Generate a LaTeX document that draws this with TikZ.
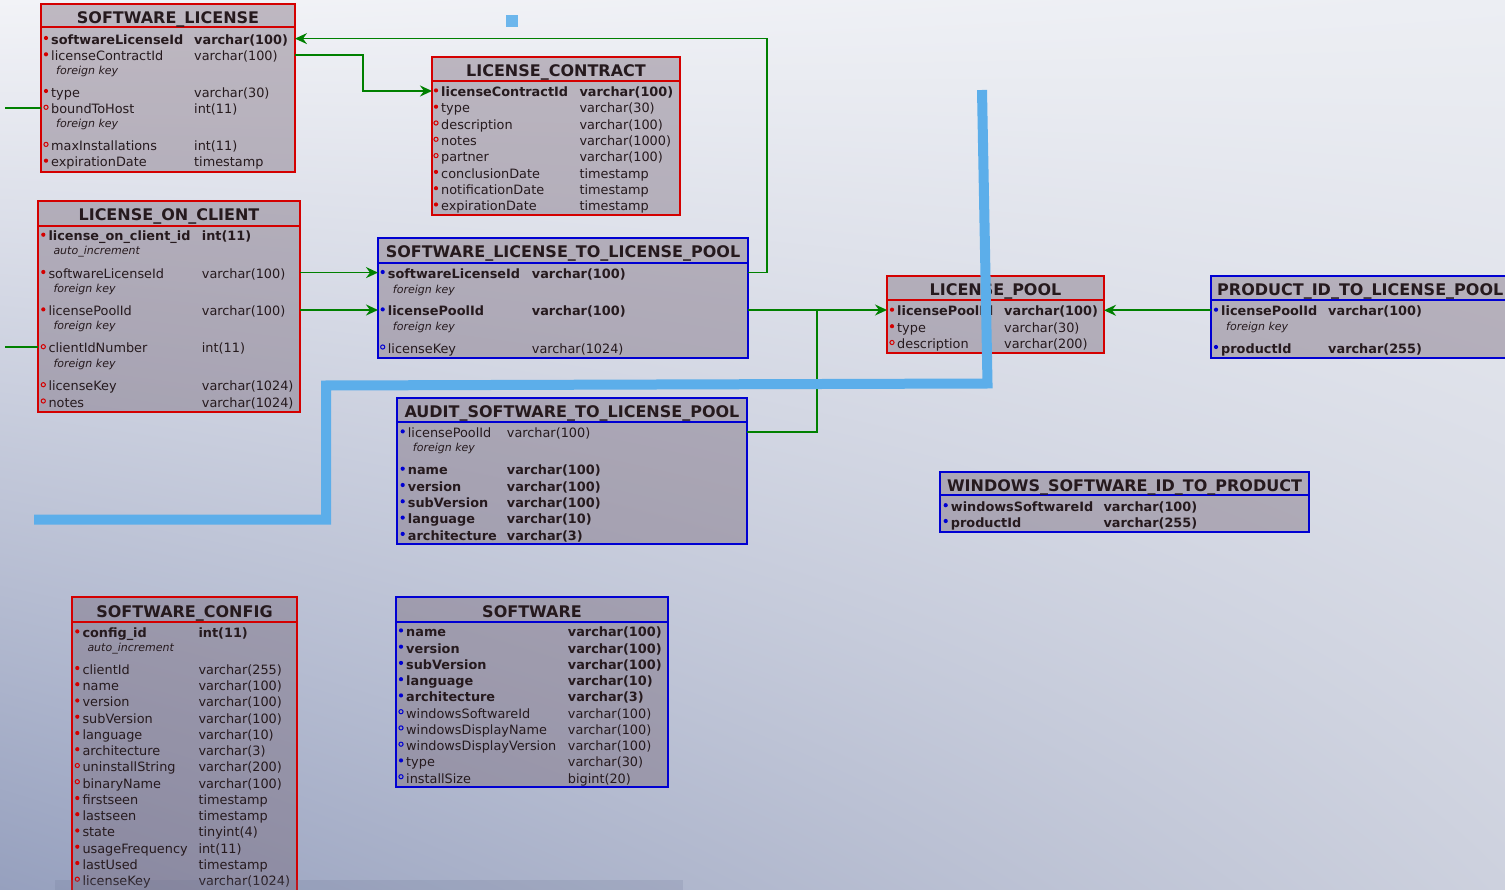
\documentclass[tikz,border=0pt]{standalone}
\usepackage{fontspec}
\setmainfont{DejaVu Sans}
\usetikzlibrary{arrows.meta,calc,shadings}
\definecolor{bgUL}{RGB}{242,243,247}
\definecolor{bgUR}{RGB}{236,238,243}
\definecolor{bgLL}{RGB}{150,160,190}
\definecolor{bgLR}{RGB}{205,209,222}
\definecolor{erred}{RGB}{212,0,0}
\definecolor{erblue}{RGB}{0,0,210}
\definecolor{ergreen}{RGB}{0,128,0}
\definecolor{txtc}{RGB}{38,26,30}
\definecolor{scrib}{RGB}{92,174,234}
\definecolor{tfillc}{RGB}{115,98,115}
\definecolor{bandc}{RGB}{110,120,150}
\colorlet{bcol}{erred}
\tikzset{
 tbox/.style={draw=#1, line width=2pt, fill=tfillc, fill opacity=0.4, inner sep=0pt, outer sep=0pt, anchor=north west},
 ttl/.style={anchor=base, inner sep=0pt, text=txtc, font=\fontsize{16}{18}\selectfont\bfseries},
 rowtxt/.style={anchor=base west, inner sep=0pt, text=txtc, font=\fontsize{12.85}{15}\selectfont},
 bld/.style={font=\fontsize{12.85}{15}\selectfont\bfseries},
 nrm/.style={},
 anntxt/.style={anchor=base west, inner sep=0pt, text=txtc, font=\fontsize{11}{13}\selectfont\itshape},
 pk/.style={fill=bcol},
 nn/.style={fill=bcol},
 nl/.style={draw=bcol, line width=1pt},
 conn/.style={draw=ergreen, line width=1.6pt},
 arr/.style={-{Stealth[length=12pt,width=11pt,inset=4pt]}},
}
% table frame: id L T R B D colour
\newcommand\tablebox[7]{%
  \pgfmathsetmacro\tw{#4-#2}\pgfmathsetmacro\th{#5-#3}%
  \node[tbox=#7, minimum width=\tw pt, minimum height=\th pt] (#1) at (#2,#3) {};
  \draw[#7, line width=2pt] (#2,#6) -- (#4,#6);
}
\newcommand\ttitle[4]{\node[ttl] (#1) at (#2,#3) {#4};}
% field row: id baseline bullet font name type
\newcommand\fr[6]{%
  \node[rowtxt,#4] (#1n) at (\nx,#2) {#5};
  \node[rowtxt,#4] (#1t) at (\tyx,#2) {#6};
  \coordinate (#1) at (\nx,{#2-5.7});
  \path[#3] ({\nx-5},{#2-6.3}) circle[radius=2.1pt];
}
\newcommand\fa[3]{\node[anntxt] (#1) at ({\nx+5},#2) {#3};}
\begin{document}
\begin{tikzpicture}[x=1pt,y=-1pt]
\useasboundingbox (0,0) rectangle (1505,890);
\shade[upper left=bgUL, upper right=bgUR, lower left=bgLL, lower right=bgLR] (0,0) rectangle (1505,890);
\clip (0,0) rectangle (1505,890);

% SOFTWARE_LICENSE
\colorlet{bcol}{erred}\def\nx{51}\def\tyx{194}
\tablebox{sl}{41}{4}{295}{172}{27}{erred}
\ttitle{slttl}{168}{24}{SOFTWARE\_LICENSE}
\fr{sla}{44.3}{pk}{bld}{softwareLicenseId}{varchar(100)}
\fr{slb}{60.6}{nn}{nrm}{licenseContractId}{varchar(100)}
\fa{slbk}{74.5}{foreign key}
\fr{slc}{97.3}{nn}{nrm}{type}{varchar(30)}
\fr{sld}{113.6}{nl}{nrm}{boundToHost}{int(11)}
\fa{sldk}{128}{foreign key}
\fr{sle}{150.7}{nl}{nrm}{maxInstallations}{int(11)}
\fr{slf}{167}{nn}{nrm}{expirationDate}{timestamp}

% LICENSE_ON_CLIENT
\def\nx{48.3}\def\tyx{201.7}
\tablebox{loc}{38}{201}{300}{412}{226}{erred}
\ttitle{locttl}{169}{221}{LICENSE\_ON\_CLIENT}
\fr{loca}{241}{pk}{bld}{license\_on\_client\_id}{int(11)}
\fa{locak}{255}{auto\_increment}
\fr{locb}{278.3}{nn}{nrm}{softwareLicenseId}{varchar(100)}
\fa{locbk}{293}{foreign key}
\fr{locc}{315.7}{nn}{nrm}{licensePoolId}{varchar(100)}
\fa{locck}{330}{foreign key}
\fr{locd}{353}{nl}{nrm}{clientIdNumber}{int(11)}
\fa{locdk}{367.7}{foreign key}
\fr{loce}{391}{nl}{nrm}{licenseKey}{varchar(1024)}
\fr{locf}{407.3}{nl}{nrm}{notes}{varchar(1024)}

% LICENSE_CONTRACT
\def\nx{441}\def\tyx{579.3}
\tablebox{lc}{432}{57}{680}{215}{81}{erred}
\ttitle{lcttl}{556}{77}{LICENSE\_CONTRACT}
\fr{lca}{96.7}{pk}{bld}{licenseContractId}{varchar(100)}
\fr{lcb}{113}{nn}{nrm}{type}{varchar(30)}
\fr{lcc}{129.3}{nl}{nrm}{description}{varchar(100)}
\fr{lcd}{145.6}{nl}{nrm}{notes}{varchar(1000)}
\fr{lce}{161.9}{nl}{nrm}{partner}{varchar(100)}
\fr{lcf}{178.2}{nn}{nrm}{conclusionDate}{timestamp}
\fr{lcg}{194.5}{nn}{nrm}{notificationDate}{timestamp}
\fr{lch}{210.8}{nn}{nrm}{expirationDate}{timestamp}

% SOFTWARE_LICENSE_TO_LICENSE_POOL
\colorlet{bcol}{erblue}\def\nx{387.7}\def\tyx{531.7}
\tablebox{sltlp}{378}{238}{748}{358}{263}{erblue}
\ttitle{sltlpttl}{563}{258}{SOFTWARE\_LICENSE\_TO\_LICENSE\_POOL}
\fr{pa}{278.3}{pk}{bld}{softwareLicenseId}{varchar(100)}
\fa{pak}{293.3}{foreign key}
\fr{pb}{315.7}{pk}{bld}{licensePoolId}{varchar(100)}
\fa{pbk}{330.7}{foreign key}
\fr{pc}{353.3}{nl}{nrm}{licenseKey}{varchar(1024)}

% AUDIT_SOFTWARE_TO_LICENSE_POOL
\def\nx{407.7}\def\tyx{506.7}
\tablebox{au}{397}{398}{747}{544}{422}{erblue}
\ttitle{auttl}{572}{418}{AUDIT\_SOFTWARE\_TO\_LICENSE\_POOL}
\fr{aa}{437.7}{nn}{nrm}{licensePoolId}{varchar(100)}
\fa{aak}{451.7}{foreign key}
\fr{ab}{475}{pk}{bld}{name}{varchar(100)}
\fr{ac}{491.3}{pk}{bld}{version}{varchar(100)}
\fr{ad}{507.6}{pk}{bld}{subVersion}{varchar(100)}
\fr{ae}{523.9}{pk}{bld}{language}{varchar(10)}
\fr{af}{540.2}{pk}{bld}{architecture}{varchar(3)}

% LICENSE_POOL
\colorlet{bcol}{erred}\def\nx{897}\def\tyx{1004}
\tablebox{lp}{887}{276}{1104}{353}{300}{erred}
\ttitle{lpttl}{995.5}{296}{LICENSE\_POOL}
\fr{lpa}{316}{pk}{bld}{licensePoolId}{varchar(100)}
\fr{lpb}{332.5}{nn}{nrm}{type}{varchar(30)}
\fr{lpc}{348.8}{nl}{nrm}{description}{varchar(200)}

% PRODUCT_ID_TO_LICENSE_POOL
\colorlet{bcol}{erblue}\def\nx{1221}\def\tyx{1328}
\tablebox{pr}{1211}{276}{1580}{358}{300}{erblue}
\node[ttl, anchor=base west] (prttl) at (1217,296) {PRODUCT\_ID\_TO\_LICENSE\_POOL};
\fr{pra}{316}{pk}{bld}{licensePoolId}{varchar(100)}
\fa{prak}{330.3}{foreign key}
\fr{prb}{353.3}{pk}{bld}{productId}{varchar(255)}

% WINDOWS_SOFTWARE_ID_TO_PRODUCT
\def\nx{950.7}\def\tyx{1103.3}
\tablebox{win}{940}{472}{1309}{532}{495}{erblue}
\ttitle{winttl}{1124.5}{491}{WINDOWS\_SOFTWARE\_ID\_TO\_PRODUCT}
\fr{wa}{511.5}{pk}{bld}{windowsSoftwareId}{varchar(100)}
\fr{wb}{527.3}{pk}{bld}{productId}{varchar(255)}

% SOFTWARE_CONFIG
\colorlet{bcol}{erred}\def\nx{82.3}\def\tyx{198.3}
\tablebox{sc}{72}{597}{297}{905}{622}{erred}
\ttitle{scttl}{184.5}{617}{SOFTWARE\_CONFIG}
\fr{sca}{637.7}{pk}{bld}{config\_id}{int(11)}
\fa{scak}{651.7}{auto\_increment}
\fr{scb}{674.3}{nn}{nrm}{clientId}{varchar(255)}
\fr{scc}{690.5}{nn}{nrm}{name}{varchar(100)}
\fr{scd}{706.8}{nn}{nrm}{version}{varchar(100)}
\fr{sce}{723}{nn}{nrm}{subVersion}{varchar(100)}
\fr{scf}{739.3}{nn}{nrm}{language}{varchar(10)}
\fr{scg}{755.5}{nn}{nrm}{architecture}{varchar(3)}
\fr{sch}{771.8}{nl}{nrm}{uninstallString}{varchar(200)}
\fr{sci}{788}{nl}{nrm}{binaryName}{varchar(100)}
\fr{scj}{804.3}{nn}{nrm}{firstseen}{timestamp}
\fr{sck}{820.5}{nn}{nrm}{lastseen}{timestamp}
\fr{scl}{836.8}{nn}{nrm}{state}{tinyint(4)}
\fr{scm}{853}{nn}{nrm}{usageFrequency}{int(11)}
\fr{scn}{869.3}{nn}{nrm}{lastUsed}{timestamp}
\fr{sco}{885.5}{nl}{nrm}{licenseKey}{varchar(1024)}

% SOFTWARE
\colorlet{bcol}{erblue}\def\nx{406}\def\tyx{567.7}
\tablebox{sw}{396}{597}{668}{787}{622}{erblue}
\ttitle{swttl}{532}{617}{SOFTWARE}
\fr{swa}{636.7}{pk}{bld}{name}{varchar(100)}
\fr{swb}{653}{pk}{bld}{version}{varchar(100)}
\fr{swc}{669.2}{pk}{bld}{subVersion}{varchar(100)}
\fr{swd}{685.5}{pk}{bld}{language}{varchar(10)}
\fr{swe}{701.7}{pk}{bld}{architecture}{varchar(3)}
\fr{swf}{718}{nl}{nrm}{windowsSoftwareId}{varchar(100)}
\fr{swg}{734.2}{nl}{nrm}{windowsDisplayName}{varchar(100)}
\fr{swh}{750.5}{nl}{nrm}{windowsDisplayVersion}{varchar(100)}
\fr{swi}{766.7}{nn}{nrm}{type}{varchar(30)}
\fr{swj}{783}{nl}{nrm}{installSize}{bigint(20)}

% connectors
\coordinate (k1) at (363,0);
\coordinate (k2) at (767,0);
\coordinate (k3) at (817,0);
\coordinate (f1) at (5,0);
\draw[conn, line width=2pt, arr] (slb -| sl.east) -- (slb -| k1) -- (lca -| k1) -- (lca -| lc.west);
\draw[conn, line width=1.1pt, arr] (pa -| sltlp.east) -- (pa -| k2) -- (sla -| k2) -- (sla -| sl.east);
\draw[conn, line width=1.8pt, arr] (locb -| loc.east) -- (locb -| sltlp.west);
\draw[conn, line width=1.8pt, arr] (locc -| loc.east) -- (locc -| sltlp.west);
\draw[conn, line width=1.5pt, arr] (pb -| sltlp.east) -- (pb -| lp.west);
\draw[conn, line width=1.2pt] (aa -| au.east) -- (aa -| k3) -- (pb -| k3);
\draw[conn, line width=1.8pt, arr] (pra -| pr.west) -- (pra -| lp.east);
\draw[conn, line width=1.4pt] (sld -| f1) -- (sld -| sl.west);
\draw[conn, line width=1.6pt] (locd -| f1) -- (locd -| loc.west);

% scribble overlay
\draw[scrib, line width=10pt, line join=miter] (34,519.5) -- (326,519.5) -- (326,385.5) -- (987.5,383.5) -- (982,90);
\fill[scrib!90!white] (506,15) rectangle (518,27);
\fill[bandc, opacity=0.2] (55,880) rectangle (683,890);
\end{tikzpicture}
\end{document}
